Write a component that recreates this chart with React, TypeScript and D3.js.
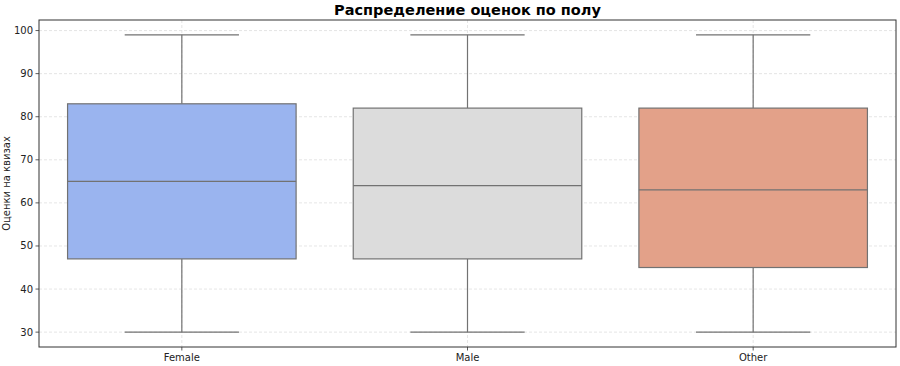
import React from "react";
import * as d3 from "d3";

const categories = ["Female", "Male", "Other"];
const whiskerLow = [30, 30, 30];
const q1 = [47, 47, 45];
const median = [65, 64, 63];
const q3 = [83, 82, 82];
const whiskerHigh = [99, 99, 99];
const colors = ["#9ab4ef", "#dcdcdc", "#e3a189"];
const yTicks = [30, 40, 50, 60, 70, 80, 90, 100];

const W = 900, H = 366;
const M = { left: 39, right: 4, top: 20, bottom: 19 };

export default function App() {
  const x = d3.scaleLinear().domain([-0.5, 2.5]).range([M.left, W - M.right]);
  const y = d3.scaleLinear().domain([26.55, 102.45]).range([H - M.bottom, M.top]);
  const step = x(1) - x(0);
  const bw = step * 0.8;
  const cap = step * 0.4;
  const font = "DejaVu Sans, sans-serif";
  const lineCol = "#727272";
  const gridCol = "#dedede";
  return (
    <svg width={W} height={H} style={{ position: "absolute", left: 0, top: 0 }}>
      <rect width={W} height={H} fill="#fff" />
      <text x={(M.left + W - M.right) / 2} y={15} textAnchor="middle" fontFamily={font} fontWeight="bold" fontSize={14.5}>Распределение оценок по полу</text>
      {yTicks.map(t => (
        <g key={t}>
          <line x1={M.left} x2={W - M.right} y1={y(t)} y2={y(t)} stroke={gridCol} strokeDasharray="3,2" strokeWidth={0.8} />
          <line x1={M.left - 3.5} x2={M.left} y1={y(t)} y2={y(t)} stroke="#333" strokeWidth={0.8} />
          <text x={M.left - 6} y={y(t)} dy="0.35em" textAnchor="end" fontFamily={font} fontSize={10} fill="#222">{t}</text>
        </g>
      ))}
      {categories.map((c, i) => (
        <g key={c}>
          <line x1={x(i)} x2={x(i)} y1={M.top} y2={H - M.bottom} stroke={gridCol} strokeDasharray="3,2" strokeWidth={0.8} />
          <line x1={x(i)} x2={x(i)} y1={H - M.bottom} y2={H - M.bottom + 3.5} stroke="#333" strokeWidth={0.8} />
          <text x={x(i)} y={H - M.bottom + 14} textAnchor="middle" fontFamily={font} fontSize={10} fill="#222">{c}</text>
        </g>
      ))}
      {categories.map((c, i) => (
        <g key={"b" + c}>
          <line x1={x(i)} x2={x(i)} y1={y(whiskerHigh[i])} y2={y(q3[i])} stroke={lineCol} strokeWidth={1.2} />
          <line x1={x(i)} x2={x(i)} y1={y(q1[i])} y2={y(whiskerLow[i])} stroke={lineCol} strokeWidth={1.2} />
          <line x1={x(i) - cap / 2} x2={x(i) + cap / 2} y1={y(whiskerHigh[i])} y2={y(whiskerHigh[i])} stroke={lineCol} strokeWidth={1.2} />
          <line x1={x(i) - cap / 2} x2={x(i) + cap / 2} y1={y(whiskerLow[i])} y2={y(whiskerLow[i])} stroke={lineCol} strokeWidth={1.2} />
          <rect x={x(i) - bw / 2} y={y(q3[i])} width={bw} height={y(q1[i]) - y(q3[i])} fill={colors[i]} stroke={lineCol} strokeWidth={1.2} />
          <line x1={x(i) - bw / 2} x2={x(i) + bw / 2} y1={y(median[i])} y2={y(median[i])} stroke={lineCol} strokeWidth={1.2} />
        </g>
      ))}
      <rect x={M.left} y={M.top} width={W - M.left - M.right} height={H - M.top - M.bottom} fill="none" stroke="#333" strokeWidth={1} />
      <text transform={`translate(10,${(M.top + H - M.bottom) / 2}) rotate(-90)`} textAnchor="middle" fontFamily={font} fontSize={10} fill="#222">Оценки на квизах</text>
    </svg>
  );
}
